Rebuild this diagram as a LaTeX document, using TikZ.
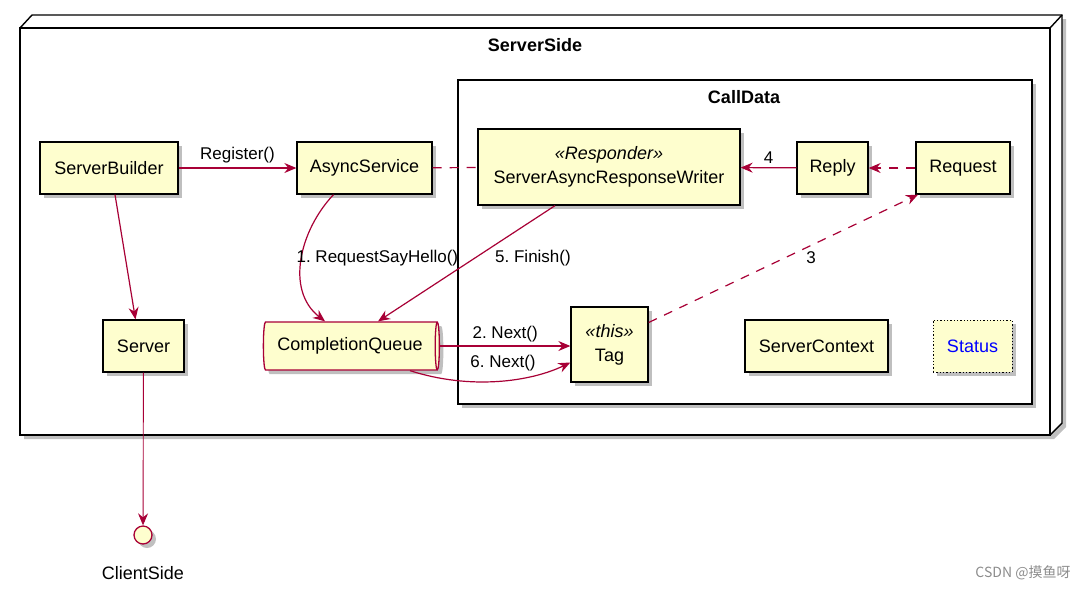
\documentclass[tikz,border=0pt]{standalone}
\usepackage{fontspec}
\setmainfont{Liberation Sans}
\newfontfamily\cjk{Noto Sans CJK SC}
\usetikzlibrary{shapes.geometric,shadows,arrows.meta}
\definecolor{boxfill}{HTML}{FEFECE}
\definecolor{arr}{HTML}{A80036}
\frenchspacing
\begin{document}
\begin{tikzpicture}[x=1pt,y=-1pt,
 shad/.style={drop shadow={shadow xshift=4pt,shadow yshift=-4pt,opacity=0.45,fill=black!55}},
 box/.style={draw=black,line width=1.3pt,fill=boxfill,minimum height=52pt,inner sep=0pt,shad,font=\fontsize{18}{24}\selectfont},
 link/.style={draw=arr,line width=1.2pt},
 tip/.style={-{Stealth[length=12pt,width=10pt,inset=4pt]}},
 lbl/.style={font=\fontsize{17}{19}\selectfont,inner sep=1pt,text=black},
 ttl/.style={font=\bfseries\fontsize{18}{20}\selectfont},
 dsh/.style={dash pattern=on 9pt off 8pt},
]
\useasboundingbox (0,0) rectangle (1089,590);
% outer 3D node frame
\path[fill=white,shad] (20,28) -- (32,15) -- (1062,15) -- (1062,423) -- (1050,435) -- (20,435) -- cycle;
\draw[line width=1.4pt] (20,28) rectangle (1050,435);
\draw[line width=1.4pt] (20,28) -- (32,15) -- (1062,15) -- (1062,423) -- (1050,435);
\draw[line width=1.4pt] (1050,28) -- (1062,15);
\node[ttl] (sst) at (535,45) {ServerSide};
% CallData frame
\node[draw,line width=1.4pt,fill=white,shad,minimum width=574pt,minimum height=324pt] (cd) at (745,242) {};
\node[ttl] (cdt) at (744,97) {CallData};
% nodes
\node[box,minimum width=138pt] (sb) at (109,168) {ServerBuilder};
\node[box,minimum width=135pt] (as) at (364.5,168) {AsyncService};
\node[box,minimum width=262pt,minimum height=76pt,align=center] (saw) at (609,167) {\textit{«Responder»}\\ServerAsyncResponseWriter};
\node[box,minimum width=71pt] (reply) at (832.5,168) {Reply};
\node[box,minimum width=94pt] (req) at (963,168) {Request};
\node[box,minimum width=81pt] (server) at (143.5,346) {Server};
\node[cylinder,shape border rotate=0,aspect=0.25,minimum width=48pt,minimum height=176pt,inner sep=0pt,draw=arr,line width=1.3pt,fill=boxfill,shad,font=\fontsize{18}{24}\selectfont] (cq) at (350,346) {CompletionQueue};
\node[box,minimum width=77pt,minimum height=75pt,align=center] (tag) at (609.5,344.5) {\textit{«this»}\\Tag};
\node[box,minimum width=143pt] (sc) at (816.5,346) {ServerContext};
\node[box,dotted,line width=0.8pt,minimum width=79pt,text=blue] (status) at (972.5,346) {Status};
\node[circle,draw=arr,fill=boxfill,line width=1.3pt,minimum size=18pt,inner sep=0pt,shad] (cs) at (143,535) {};
\node[font=\fontsize{18}{20}\selectfont] (csl) at (143,573) {ClientSide};
% edges
\draw[link,tip] (sb) -- node[lbl,above=3pt] {Register()} (as);
\draw[link,tip] ([xshift=6pt]sb.south) -- ([xshift=-8pt]server.north);
\draw[link,dsh] (as) -- (saw);
\draw[link,tip] ([xshift=-31pt]as.south) .. controls (300,230) and (285,290) .. ([xshift=-25pt]cq.north)
  node[lbl,anchor=west] at (295,258) {1. RequestSayHello()};
\draw[link,tip] ([xshift=-54pt]saw.south) -- ([xshift=28pt]cq.north)
  node[lbl] at (533,258) {5. Finish()};
\draw[link,tip] (reply) -- node[lbl,above=3pt] {4} (saw);
\draw[link,dsh,tip] (req) -- (reply);
\draw[link,dsh,tip] ([yshift=22pt]tag.east) -- ([xshift=-45pt]req.south)
  node[lbl] at (811,258) {3};
\draw[link,tip] (cq.east) -- node[lbl,above=2pt] {2. Next()} (cq.east -| tag.west);
\draw[link,tip] ([xshift=60pt]cq.south) .. controls (470,390) and (530,382) .. ([yshift=-18pt]tag.west)
  node[lbl] at (503,363) {6. Next()};
\draw[arr,line width=0.9pt,tip] (server) -- (cs);
\node[font=\cjk\fontsize{14}{16}\selectfont,text=black!45] (wm) at (1023,573) {CSDN @摸鱼呀};
\end{tikzpicture}
\end{document}
